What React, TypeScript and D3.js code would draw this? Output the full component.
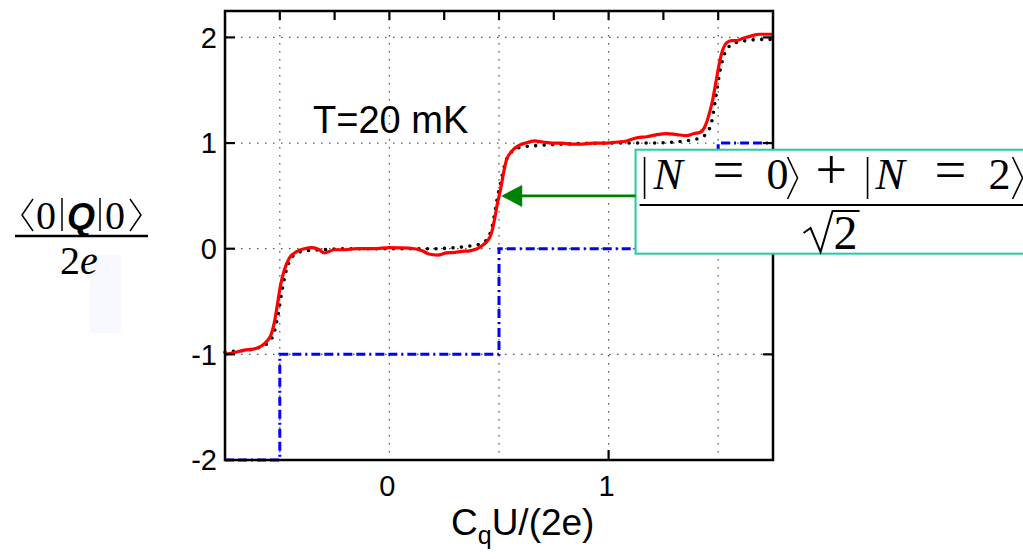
import React from "react";
import * as d3 from "d3";

// measured red trace (experiment)
const redX = [-0.753, -0.7, -0.662, -0.62, -0.603, -0.571, -0.539, -0.525, -0.511, -0.498, -0.479, -0.457, -0.425, -0.388, -0.352, -0.32, -0.297, -0.25, -0.21, -0.15, -0.07, 0, 0.09, 0.15, 0.18, 0.22, 0.26, 0.3, 0.33, 0.365, 0.4, 0.43, 0.45, 0.466, 0.479, 0.493, 0.507, 0.521, 0.534, 0.557, 0.594, 0.62, 0.662, 0.7, 0.744, 0.79, 0.83, 0.868, 0.93, 0.991, 1.04, 1.082, 1.13, 1.174, 1.22, 1.265, 1.31, 1.356, 1.39, 1.416, 1.438, 1.461, 1.475, 1.489, 1.502, 1.516, 1.539, 1.56, 1.584, 1.61, 1.644, 1.689, 1.72, 1.75];
const redY = [-1.0, -0.98, -0.96, -0.95, -0.94, -0.9, -0.81, -0.7, -0.53, -0.36, -0.2, -0.09, -0.03, 0.0, 0.01, -0.01, -0.04, -0.01, -0.01, 0.0, 0.0, 0.01, 0.005, -0.02, -0.05, -0.06, -0.04, -0.035, -0.025, -0.02, 0.0, 0.04, 0.08, 0.15, 0.27, 0.43, 0.56, 0.72, 0.84, 0.92, 0.98, 1.0, 1.02, 1.01, 1.0, 1.0, 0.99, 0.99, 1.0, 1.0, 1.01, 1.02, 1.05, 1.06, 1.08, 1.09, 1.08, 1.07, 1.09, 1.1, 1.15, 1.29, 1.41, 1.57, 1.72, 1.85, 1.95, 1.97, 1.97, 1.99, 2.01, 2.03, 2.03, 2.03];

// theory (black dotted)
const blackX = [-0.75, -0.7, -0.65, -0.6, -0.56, -0.53, -0.51, -0.49, -0.47, -0.45, -0.42, -0.38, -0.3, -0.2, 0, 0.2, 0.3, 0.38, 0.42, 0.45, 0.47, 0.49, 0.51, 0.53, 0.56, 0.6, 0.7, 0.8, 1.0, 1.2, 1.3, 1.38, 1.42, 1.45, 1.47, 1.49, 1.51, 1.53, 1.56, 1.6, 1.7, 1.75];
const blackY = [-0.98, -0.97, -0.96, -0.94, -0.9, -0.82, -0.65, -0.4, -0.2, -0.1, -0.04, -0.02, -0.01, 0, 0, 0, 0.01, 0.03, 0.05, 0.1, 0.22, 0.45, 0.65, 0.82, 0.92, 0.96, 0.98, 0.99, 1, 1, 1.01, 1.03, 1.05, 1.1, 1.2, 1.45, 1.7, 1.85, 1.93, 1.96, 1.98, 1.98];

// classical staircase (blue dash-dot)
const stepX = [-0.75, -0.5, 0.5, 1.5, 1.75];
const stepY = [-2, -1, 0, 1, 1];

const xGrid = [-0.5, 0, 0.5, 1, 1.5];
const yGrid = [-1, 0, 1, 2];
const xTopTicks = [-0.5, -0.25, 0, 0.25, 0.5, 0.75, 1, 1.25, 1.5];
const xLabels = [0, 1];
const yLabels = [-2, -1, 0, 1, 2];

const x = d3.scaleLinear().domain([-0.75, 1.75]).range([225, 773]);
const y = d3.scaleLinear().domain([-2, 2.25]).range([460, 11]);

const sans = "'Liberation Sans', Arial, sans-serif";
const serif = "'Liberation Serif', 'Times New Roman', serif";

const App = () => {
  const line = d3
    .line<[number, number]>()
    .x((d) => x(d[0]))
    .y((d) => y(d[1]))
    .curve(d3.curveMonotoneX);
  const stepLine = d3
    .line<[number, number]>()
    .x((d) => x(d[0]))
    .y((d) => y(d[1]))
    .curve(d3.curveStepAfter);

  const red = redX.map((v, i) => [v, redY[i]] as [number, number]);
  const black = blackX.map((v, i) => [v, blackY[i]] as [number, number]);
  const steps = stepX.map((v, i) => [v, stepY[i]] as [number, number]);

  const [x0, x1] = x.range();
  const [yb, yt] = y.range();

  // annotation box
  const boxL = x(1.123);
  const boxT = y(0.937);
  const boxB = y(-0.047);
  const arrowY = y(0.5);
  const tipX = x(0.51);

  const num = [
    { t: "N", dx: 18, it: true },
    { t: "=", dx: 77 },
    { t: "0", dx: 131 },
    { t: "+", dx: 180 },
    { t: "N", dx: 240, it: true },
    { t: "=", dx: 299 },
    { t: "2", dx: 353 },
  ];
  const numBase = 189;

  return (
    <svg width={1023} height={559} style={{ position: "absolute", left: 0, top: 0, background: "#fff" }}>
      {/* faint patch left of the plot */}
      <rect x={90} y={255} width={31} height={78} fill="#f8f9fe" />

      {/* grid */}
      <g stroke="#555" strokeWidth={1.3} strokeDasharray="1.5 6.5">
        {xGrid.map((v) => (
          <line key={"gx" + v} x1={x(v)} x2={x(v)} y1={yt} y2={yb} />
        ))}
        {yGrid.map((v) => (
          <line key={"gy" + v} x1={x0} x2={x1} y1={y(v)} y2={y(v)} />
        ))}
      </g>

      <path d={stepLine(steps) || ""} fill="none" stroke="#0000ff" strokeWidth={3} strokeDasharray="9 4 9 4 2 4" />
      <path d={line(black) || ""} fill="none" stroke="#000" strokeWidth={3.6} strokeLinecap="round" strokeDasharray="0 8.5" />
      <path d={line(red) || ""} fill="none" stroke="#ff0000" strokeWidth={3.2} strokeLinejoin="round" />

      {/* frame and ticks */}
      <rect x={x0} y={yt} width={x1 - x0} height={yb - yt} fill="none" stroke="#000" strokeWidth={2.5} />
      <g stroke="#000" strokeWidth={2.2}>
        {xTopTicks.map((v) => (
          <line key={"tt" + v} x1={x(v)} x2={x(v)} y1={yt} y2={yt + 9} />
        ))}
        <line x1={x(1)} x2={x(1)} y1={yb} y2={yb - 10} />
        {yGrid.map((v) => (
          <g key={"yt" + v}>
            <line x1={x0} x2={x0 + 10} y1={y(v)} y2={y(v)} />
            <line x1={x1} x2={x1 - 10} y1={y(v)} y2={y(v)} />
          </g>
        ))}
      </g>

      {/* tick labels */}
      <g fontFamily={sans} fontSize={29} fill="#000">
        {yLabels.map((v) => (
          <text key={"yl" + v} x={x0 - 8} y={y(v)} dy="0.36em" textAnchor="end">
            {v}
          </text>
        ))}
        {xLabels.map((v) => (
          <text key={"xl" + v} x={x(v) - 2} y={496} textAnchor="middle">
            {v}
          </text>
        ))}
      </g>

      <text x={451} y={535} fontFamily={sans} fontSize={37}>
        C<tspan fontSize={25} dy={9}>q</tspan>
        <tspan dy={-9}>U/(2e)</tspan>
      </text>

      <text x={313} y={133} fontFamily={sans} fontSize={38}>
        T=20 mK
      </text>

      {/* y label: <0|Q|0> / 2e */}
      <g fill="none" stroke="#000" strokeWidth={1.5}>
        <polyline points="33,199 22,215 33,231" />
        <polyline points="130,199 141,215 130,231" />
        <line x1={62} x2={62} y1={198} y2={231} />
        <line x1={100} x2={100} y1={198} y2={231} />
      </g>
      <g fontFamily={serif} fontSize={40} fill="#000">
        <text x={36} y={229}>0</text>
        <text x={105} y={229}>0</text>
        <text
          x={81}
          y={229}
          textAnchor="middle"
          fontFamily={sans}
          fontStyle="italic"
          fontWeight="bold"
          fontSize={36}
        >
          Q
        </text>
        <text x={60} y={274}>
          2<tspan fontStyle="italic">e</tspan>
        </text>
      </g>
      <line x1={15} x2={148} y1={236} y2={236} stroke="#000" strokeWidth={2.5} />

      {/* annotation box */}
      <rect x={boxL} y={boxT} width={1040 - boxL} height={boxB - boxT} fill="#fff" stroke="#1ecf9e" strokeWidth={2} />
      <line x1={boxL} x2={tipX + 20} y1={arrowY} y2={arrowY} stroke="#008000" strokeWidth={2.6} />
      <path
        d={`M${tipX},${arrowY} L${tipX + 21},${arrowY - 11} L${tipX + 21},${arrowY + 11} Z`}
        fill="#008000"
      />

      <g fontFamily={serif} fill="#000">
        {num.map((p, i) => (
          <text
            key={"n" + i}
            x={boxL + p.dx}
            y={numBase}
            fontStyle={p.it ? "italic" : "normal"}
            fontSize={p.t === "=" || p.t === "+" ? 56 : 44}
            textLength={p.t === "=" ? 32 : undefined}
            lengthAdjust="spacingAndGlyphs"
          >
            {p.t}
          </text>
        ))}
      </g>
      <g fill="none" stroke="#000" strokeWidth={1.6}>
        <line x1={boxL + 9} x2={boxL + 9} y1={157} y2={199} />
        <polyline points={`${boxL + 152},157 ${boxL + 162},178 ${boxL + 152},199`} />
        <line x1={boxL + 232} x2={boxL + 232} y1={157} y2={199} />
        <polyline points={`${boxL + 377},157 ${boxL + 387},178 ${boxL + 377},199`} />
      </g>
      <line x1={boxL + 4} x2={1023} y1={205} y2={205} stroke="#000" strokeWidth={2} />
      {/* sqrt 2 */}
      <path
        d={`M${boxL + 168},${233} L${boxL + 175},${228} L${boxL + 185},${252} L${boxL + 197},${211} L${boxL + 224},${211}`}
        fill="none"
        stroke="#000"
        strokeWidth={2}
      />
      <text x={boxL + 198} y={249} fontFamily={serif} fontSize={48}>
        2
      </text>
    </svg>
  );
};

export default App;
